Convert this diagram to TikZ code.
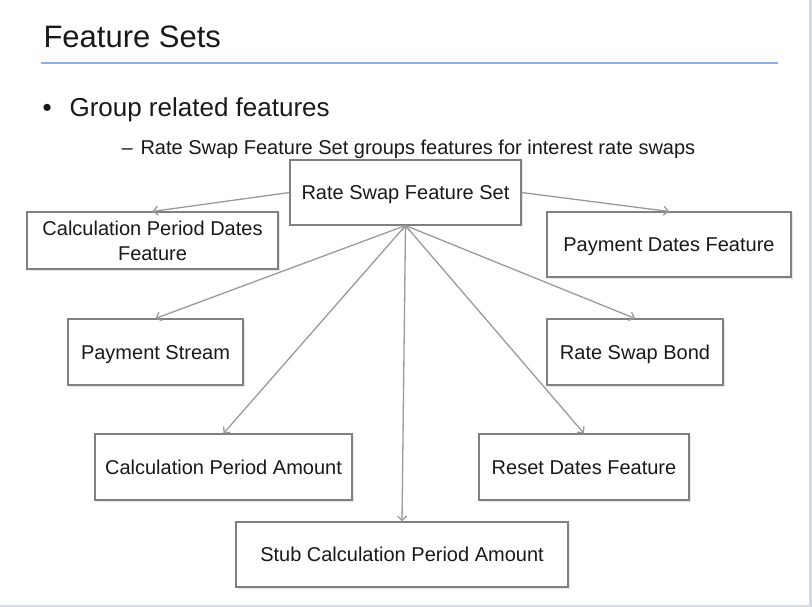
\documentclass[tikz,border=0pt]{standalone}
\usepackage{fontspec}
\setmainfont{Liberation Sans}
\usepackage{xcolor}
\usetikzlibrary{arrows.meta, positioning, calc, shadows}

\definecolor{ruleblue}{HTML}{8DB3E6}
\definecolor{framegrey}{HTML}{D5DAE3}
\definecolor{boxgrey}{HTML}{808080}
\definecolor{arrowgrey}{HTML}{9A9A9A}

\begin{document}
\begin{tikzpicture}[x=1pt,y=-1pt,>={Straight Barb[length=4.5pt,width=9pt]},
			feature box/.style={draw=boxgrey,line width=1.1pt,fill=white,inner sep=0pt,
				align=center,text=black!90,font=\fontsize{20}{25}\selectfont,
				drop shadow={opacity=0.2,shadow xshift=1.5pt,shadow yshift=-1.5pt}},
			one line/.style={text height=14.5pt,text depth=0pt},
			slide text/.style={anchor=base west,text=black!90}]
			
			\useasboundingbox (0,0) rectangle (812,607);
			\fill[framegrey] (809,0) rectangle (812,607);
			\fill[framegrey] (0,605) rectangle (812,607);
			
			\node[slide text,font=\fontsize{31}{36}\selectfont] (title) at (40,48) {Feature Sets};
			\draw[ruleblue,line width=2pt] (41,63) -- (778,63);
			\node[slide text,font=\fontsize{26}{30}\selectfont] (dot) at (39,117) {•};
			\node[slide text,font=\fontsize{26}{30}\selectfont] (group) at (66,117) {Group related features};
			\node[slide text,font=\fontsize{20}{24}\selectfont] (dash) at (118,155) {–};
			\node[slide text,font=\fontsize{20}{24}\selectfont] (sub) at (137,155) {Rate Swap Feature Set groups features for interest rate swaps};
			
			\node[feature box,one line,minimum width=231pt,minimum height=65pt] (set) at (405.5,192.5) {Rate Swap Feature Set};
			\node[feature box,minimum width=251pt,minimum height=57pt] (cpd) at (152.5,240.5) {Calculation Period Dates\\Feature};
			\node[feature box,one line,minimum width=244pt,minimum height=65pt] (pdf) at (669,244.5) {Payment Dates Feature};
			\node[feature box,one line,minimum width=175pt,minimum height=66pt] (ps) at (155.5,352) {Payment Stream};
			\node[feature box,one line,minimum width=176pt,minimum height=66pt] (rsb) at (635,352) {Rate Swap Bond};
			\node[feature box,one line,minimum width=257pt,minimum height=66pt] (cpa) at (223.5,467) {Calculation Period Amount};
			\node[feature box,one line,minimum width=210pt,minimum height=66pt] (rdf) at (584,467) {Reset Dates Feature};
			\node[feature box,one line,minimum width=332pt,minimum height=65pt] (stub) at (402,554.5) {Stub Calculation Period Amount};
			
			\path[->,draw=arrowgrey,line width=1.3pt]
			(set.west) edge (cpd.north)
			(set.east) edge (pdf.north)
			(set.south) edge (ps.north)
			(set.south) edge (cpa.north)
			(set.south) edge (stub.north)
			(set.south) edge (rdf.north)
			(set.south) edge (rsb.north);
		\end{tikzpicture}
\end{document}
